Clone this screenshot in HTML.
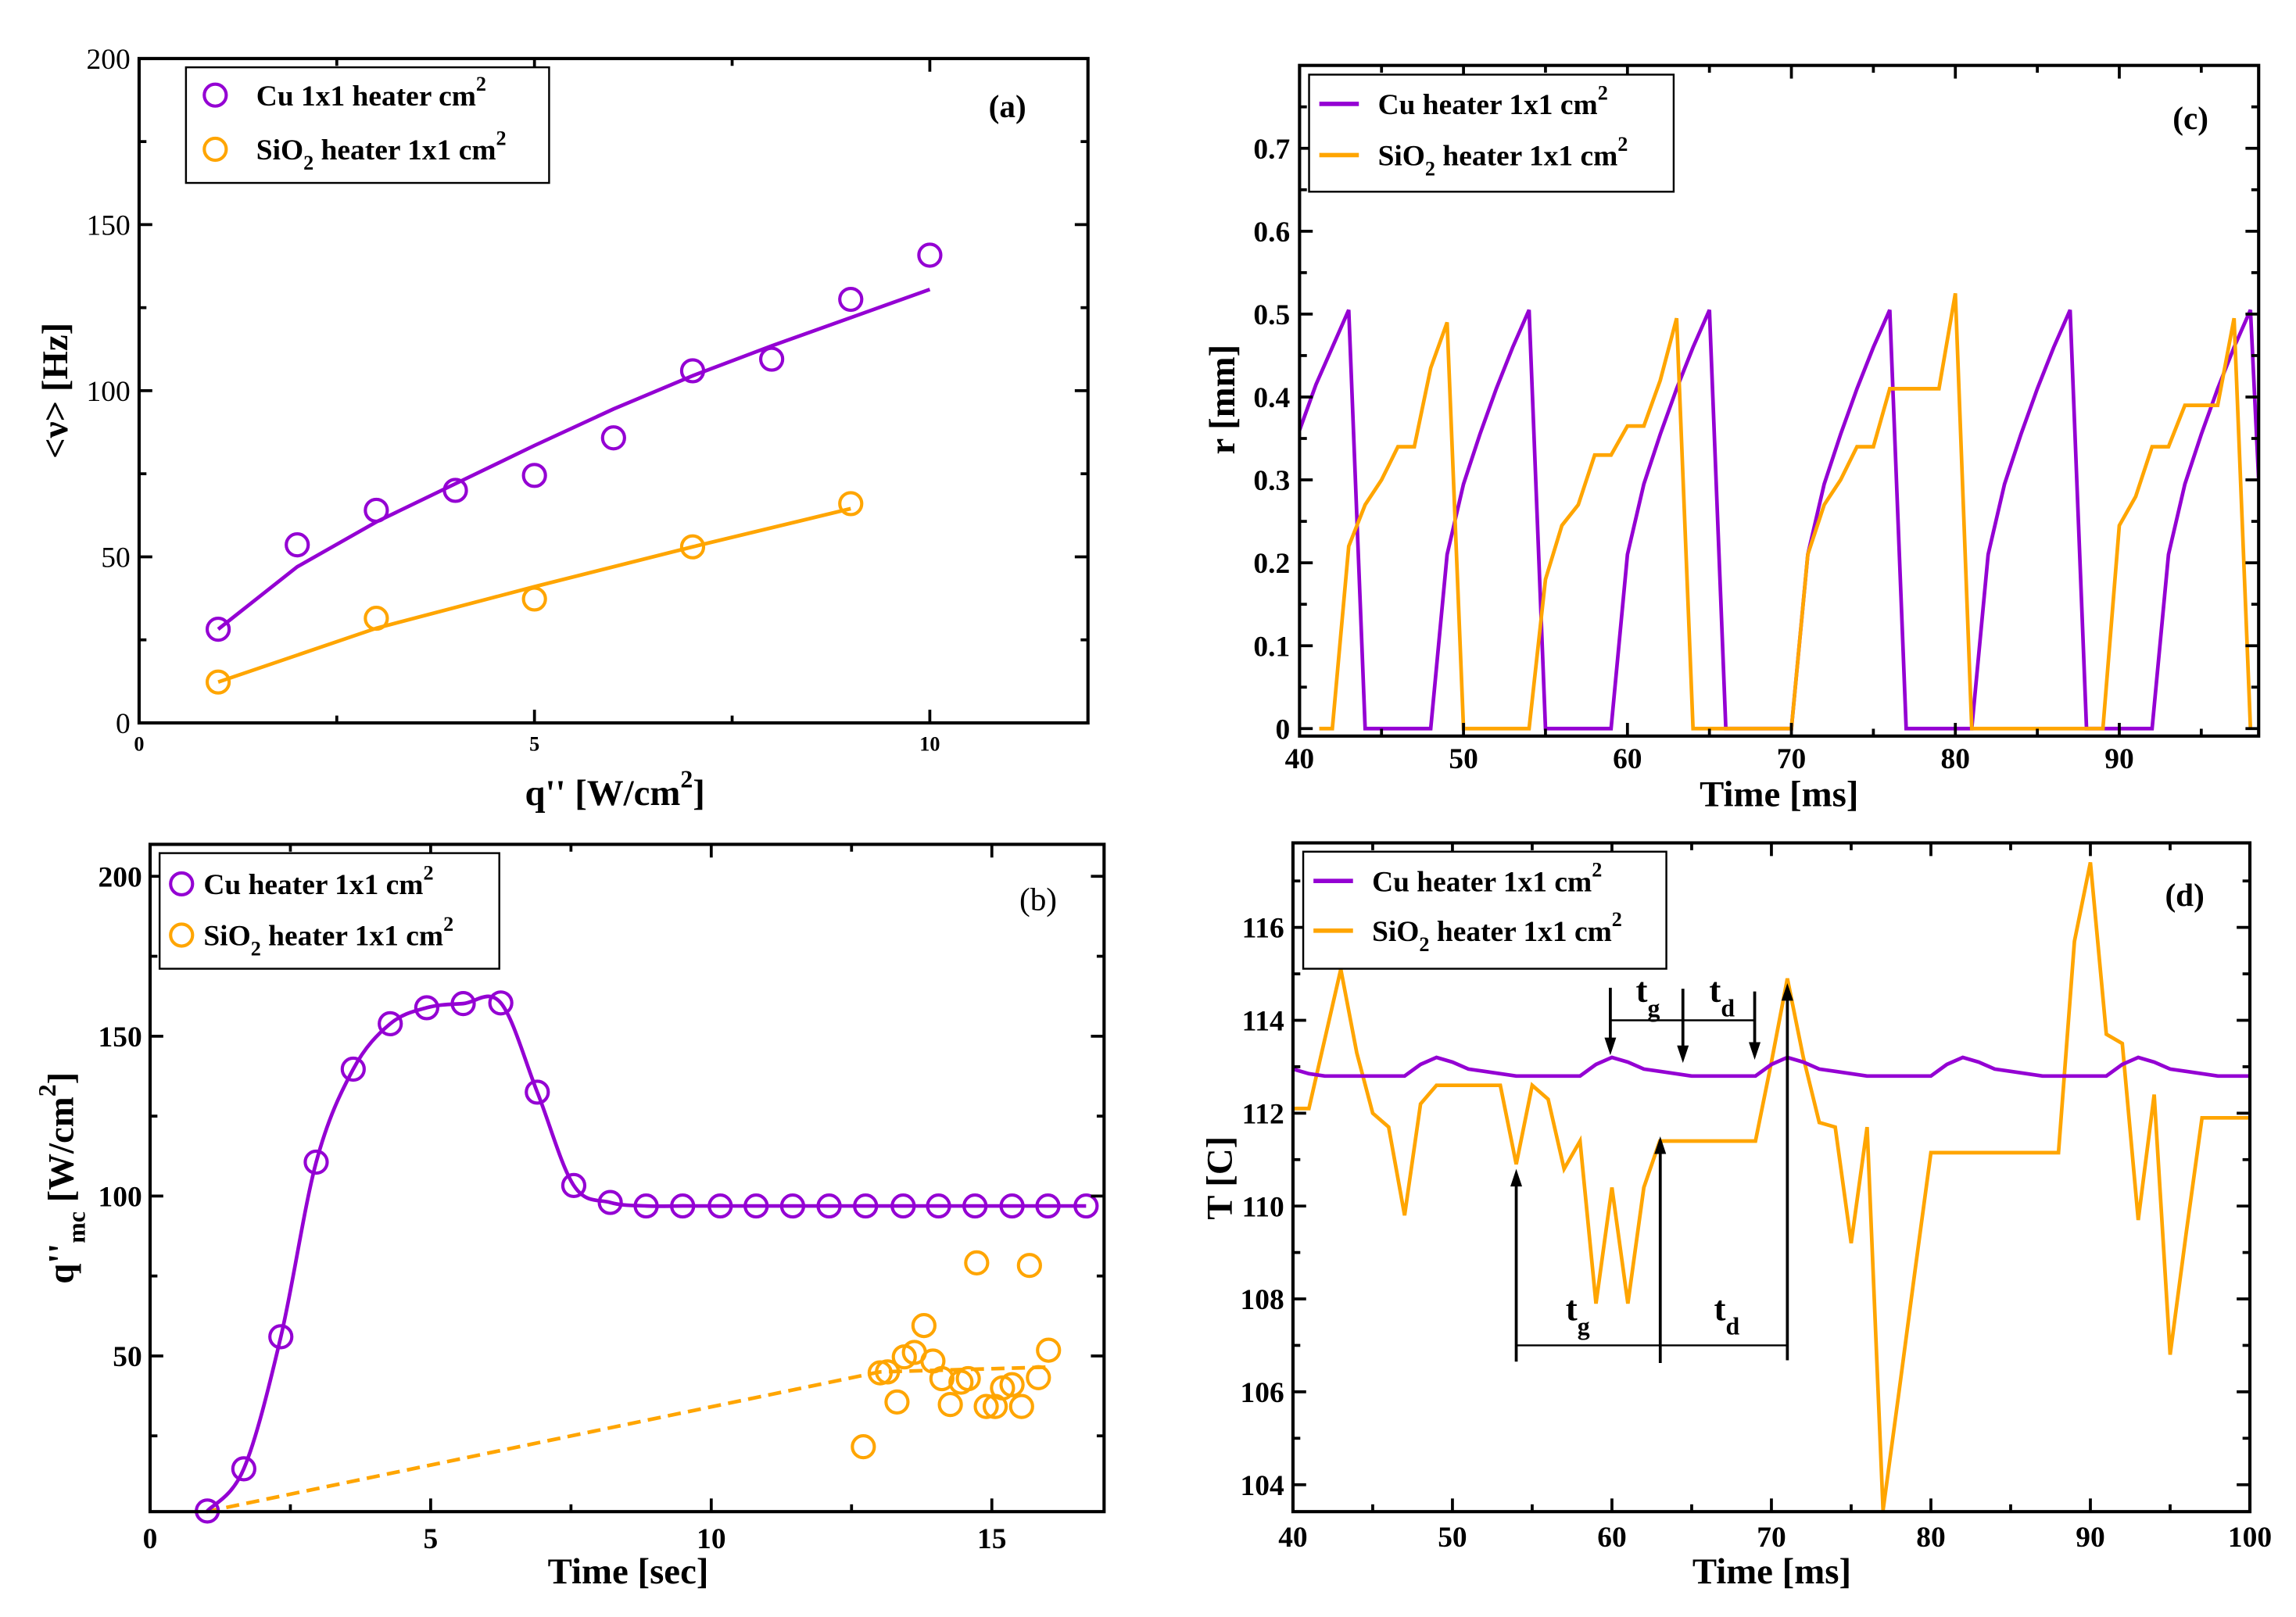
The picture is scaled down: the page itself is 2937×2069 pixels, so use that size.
<!DOCTYPE html>
<html><head><meta charset="utf-8">
<style>
html,body{margin:0;padding:0;background:#fff;}
svg{display:block;}
text{font-family:"Liberation Serif",serif;}
</style></head>
<body>
<svg id="fig" width="2937" height="2069" viewBox="0 0 1568 1105" preserveAspectRatio="none" xmlns="http://www.w3.org/2000/svg">
<rect x="0" y="0" width="1568" height="1105" fill="#fff"/>
</svg>
<script>
// ---------- panel (a) data ----------
const aX = [1,2,3,4,5,6,7,8,9,10];
const aCu = [28.2,53.6,64,70,74.5,85.8,106,109.5,127.5,140.8];
const aCuFit = [28.2,47,60.5,72,83.5,94.5,104.5,113.5,122,130.5];
const aSiX = [1,3,5,7,9];
const aSi = [12.3,31.5,37.3,53,66];
const aSiFit = [12.3,28.5,41,53,64.5];
const aXTicks = [0,5,10];
const aYTicks = [0,50,100,150,200];
// ---------- panel (b) data ----------
const bCuX = [1.02,1.67,2.33,2.96,3.62,4.28,4.93,5.58,6.25,6.9,7.55,8.2,8.84,9.49,10.16,10.8,11.45,12.1,12.75,13.42,14.05,14.7,15.36,16.0,16.68];
const bCuY = [1.5,14.7,56,110.6,139.7,153.9,158.9,160.2,160.4,132.5,103.3,98,96.9,96.9,96.9,96.9,96.9,96.9,96.9,96.9,96.9,96.9,96.9,96.9,96.9];
const bSiX = [12.71,13.01,13.14,13.31,13.44,13.62,13.79,13.95,14.11,14.26,14.45,14.58,14.73,14.9,15.06,15.19,15.36,15.53,15.67,15.83,16.01];
const bSiY = [21.6,44.7,45.0,35.6,49.7,51.1,59.5,48.4,42.9,34.8,41.8,42.9,79.1,34.2,34.2,40.0,41.0,34.2,78.3,43.2,51.8];
const bFitX = [1,13,16];
const bFitY = [1.3,45,46.5];
const bXTicks = [0,5,10,15];
const bYTicks = [50,100,150,200];
// ---------- panel (c) data ----------
const cCuT = [40,41,42,43,44,48,49,50,51,52,53,54,55,59,60,61,62,63,64,65,66,70,71,72,73,74,75,76,77,81,82,83,84,85,86,87,88,92,93,94,95,96,97,98,98.5];
const cCuR = [0.36,0.415,0.46,0.505,0, 0,0.21,0.295,0.355,0.41,0.46,0.505,0, 0,0.21,0.295,0.355,0.41,0.46,0.505,0, 0,0.21,0.295,0.355,0.41,0.46,0.505,0, 0,0.21,0.295,0.355,0.41,0.46,0.505,0, 0,0.21,0.295,0.355,0.41,0.46,0.505,0.3];
const cSiT = [41.2,42,43,44,45,46,47,48,49,50,54,55,56,57,58,59,60,61,62,63,64,70,71,72,73,74,75,76,79,80,81,89,90,91,92,93,94,96,97,98];
const cSiR = [0,0,0.22,0.27,0.30,0.34,0.34,0.435,0.49,0, 0,0.18,0.245,0.27,0.33,0.33,0.365,0.365,0.42,0.495,0, 0,0.21,0.27,0.30,0.34,0.34,0.41,0.41,0.525,0, 0,0.245,0.28,0.34,0.34,0.39,0.39,0.495,0];
const cXTicks = [40,50,60,70,80,90];
const cYTicks = [0,0.1,0.2,0.3,0.4,0.5,0.6,0.7];
// ---------- panel (d) data ----------
const dCuT = [40,41,42,43,44,45,46,47,48,49,50,51,52,53,54,55,56,57,58,59,60,61,62,63,64,65,66,67,68,69,70,71,72,73,74,75,76,77,78,79,80,81,82,83,84,85,86,87,88,89,90,91,92,93,94,95,96,97,98,99,100];
const dCuV = [112.95,112.85,112.8,112.8,112.8,112.8,112.8,112.8,113.05,113.2,113.1,112.95,112.9,112.85,112.8,112.8,112.8,112.8,112.8,113.05,113.2,113.1,112.95,112.9,112.85,112.8,112.8,112.8,112.8,112.8,113.05,113.2,113.1,112.95,112.9,112.85,112.8,112.8,112.8,112.8,112.8,113.05,113.2,113.1,112.95,112.9,112.85,112.8,112.8,112.8,112.8,112.8,113.05,113.2,113.1,112.95,112.9,112.85,112.8,112.8,112.8];
const dSiT = [40,41,43,44,45,46,47,48,49,53,54,55,56,57,58,59,60,61,62,63,69,70,71,72,73,74,75,76,77,78,79,80,88,89,90,91,92,93,94,95,96,97,100];
const dSiV = [112.1,112.1,115.1,113.3,112.0,111.7,109.8,112.2,112.6,112.6,110.9,112.6,112.3,110.8,111.4,107.9,110.4,107.9,110.4,111.4,111.4,113.1,114.9,113.2,111.8,111.7,109.2,111.7,103.45,106.0,108.6,111.15,111.15,115.7,117.4,113.7,113.5,109.7,112.4,106.8,109.4,111.9,111.9];
const dXTicks = [40,50,60,70,80,90,100];
const dYTicks = [104,106,108,110,112,114,116];

const NS = "http://www.w3.org/2000/svg";
const svg = document.getElementById('fig');
const PURPLE = "#9400D3", ORANGE = "#FFA500";

function mk(tag, attrs, parent){
  const e = document.createElementNS(NS, tag);
  for (const k in attrs) e.setAttribute(k, attrs[k]);
  (parent||svg).appendChild(e);
  return e;
}
function lin(d0,d1,r0,r1){ return v => r0 + (v-d0)/(d1-d0)*(r1-r0); }

function polyPath(xs, ys, sx, sy){
  return xs.map((x,i)=>(i?'L':'M')+sx(x).toFixed(2)+' '+sy(ys[i]).toFixed(2)).join(' ');
}
function smoothPath(xs, ys, sx, sy){
  const P = xs.map((x,i)=>[sx(x), sy(ys[i])]);
  let d = 'M'+P[0][0]+' '+P[0][1];
  for (let i=0;i<P.length-1;i++){
    const p0=P[Math.max(0,i-1)], p1=P[i], p2=P[i+1], p3=P[Math.min(P.length-1,i+2)];
    const c1=[p1[0]+(p2[0]-p0[0])/6, p1[1]+(p2[1]-p0[1])/6];
    const c2=[p2[0]-(p3[0]-p1[0])/6, p2[1]-(p3[1]-p1[1])/6];
    d += ' C'+c1[0]+' '+c1[1]+' '+c2[0]+' '+c2[1]+' '+p2[0]+' '+p2[1];
  }
  return d;
}

function frameAndTicks(g, box, sx, sy, xMaj, xMin, yMaj, yMin){
  const grp = mk('g', {}, g);
  
  
  const T = 9, t = 5;
  const drawX = (v, L) => {
    const x = sx(v);
    mk('line',{x1:x,y1:box.y1,x2:x,y2:box.y1-L,stroke:'#000','stroke-width':2},grp);
    mk('line',{x1:x,y1:box.y0,x2:x,y2:box.y0+L,stroke:'#000','stroke-width':2},grp);
  };
  const drawY = (v, L) => {
    const y = sy(v);
    mk('line',{x1:box.x0,y1:y,x2:box.x0+L,y2:y,stroke:'#000','stroke-width':2},grp);
    mk('line',{x1:box.x1,y1:y,x2:box.x1-L,y2:y,stroke:'#000','stroke-width':2},grp);
  };
  xMaj.forEach(v=>drawX(v,T)); xMin.forEach(v=>drawX(v,t));
  yMaj.forEach(v=>drawY(v,T)); yMin.forEach(v=>drawY(v,t));
  const fr = mk('rect',{x:box.x0,y:box.y0,width:box.x1-box.x0,height:box.y1-box.y0,fill:'none',stroke:'#000','stroke-width':2.2},g);
  
  
}

function circleMarks(g, xs, ys, sx, sy, color, name){
  const grp = mk('g', {}, g);
  
  
  xs.forEach((x,i)=>{
    const c = mk('circle',{cx:sx(x),cy:sy(ys[i]),r:7.5,fill:'none',stroke:color,'stroke-width':2.2},grp);
    
    
  });
}

function tickLabels(g, vals, fmt, pos, anchor, size, weight, name){
  const grp = mk('g', {}, g);
  
  
  vals.forEach(v=>{
    const p = pos(v);
    const tx = mk('text',{x:p[0],y:p[1],'text-anchor':anchor,'font-size':size,'font-weight':weight},grp);
    tx.textContent = fmt(v);
    
    
  });
}

function legend(g, box, items, sym){
  const lg = mk('g', {}, g);
  
  
  mk('rect',{x:box.x,y:box.y,width:box.w,height:box.h,fill:'#fff',stroke:'#000','stroke-width':1.3},lg);
  items.forEach(it=>{
    const e = mk('g',{},lg);
    
    
    if (sym==='circle') mk('circle',{cx:it.sx,cy:it.y,r:7.5,fill:'none',stroke:it.color,'stroke-width':2.2},e);
    else mk('line',{x1:it.sx,y1:it.y,x2:it.sx+27,y2:it.y,stroke:it.color,'stroke-width':3},e);
    const tx = mk('text',{x:it.tx,y:it.y+7,'font-size':20,'font-weight':'bold'},e);
    tx.innerHTML = it.html;
  });
}

const CU_TXT = 'Cu heater 1x1 cm<tspan dy="-10" font-size="14">2</tspan>';
const CU_TXT_A = 'Cu 1x1 heater cm<tspan dy="-10" font-size="14">2</tspan>';
const SI_TXT = 'SiO<tspan dy="7" font-size="14">2</tspan><tspan dy="-7"> heater 1x1 cm</tspan><tspan dy="-10" font-size="14">2</tspan>';

// ================= Panel (a) =================
(function(){
  const g = mk('g',{});  
  const box = {x0:95,x1:743,y0:40,y1:494};
  const sx = lin(0,12,box.x0,box.x1), sy = lin(0,200,box.y1,box.y0);
  const l1 = mk('path',{d:polyPath(aX,aCuFit,sx,sy),fill:'none',stroke:PURPLE,'stroke-width':2.5},g);
   
  const l2 = mk('path',{d:polyPath(aSiX,aSiFit,sx,sy),fill:'none',stroke:ORANGE,'stroke-width':2.5},g);
   
  circleMarks(g,aX,aCu,sx,sy,PURPLE,'cu-series');
  circleMarks(g,aSiX,aSi,sx,sy,ORANGE,'sio2-series');
  frameAndTicks(g,box,sx,sy,[0,5,10],[2.5,7.5],aYTicks,[25,75,125,175]);
  tickLabels(g,aXTicks,v=>String(v),v=>[sx(v),513],'middle',14,'bold','x-tick-labels');
  tickLabels(g,aYTicks,v=>String(v),v=>[89,sy(v)+7],'end',20,'normal','y-tick-labels');
  legend(g,{x:127,y:46,w:248,h:79},[
    {sx:147,tx:175,y:65,color:PURPLE,html:CU_TXT_A},
    {sx:147,tx:175,y:102,color:ORANGE,html:SI_TXT}],'circle');
  const pl = mk('text',{x:688,y:80,'font-size':22,'font-weight':'bold','text-anchor':'middle'},g);
  pl.textContent='(a)';  
  const xt = mk('text',{x:420,y:550,'font-size':25,'font-weight':'bold','text-anchor':'middle'},g);
  xt.innerHTML = 'q\'\' [W/cm<tspan dy="-12" font-size="17">2</tspan><tspan dy="12">]</tspan>';
   
  const yt = mk('text',{x:0,y:0,'font-size':25,'font-weight':'bold','text-anchor':'middle',transform:'translate(46,267) rotate(-90)'},g);
  yt.textContent = '<ν> [Hz]';
   
})();

// ================= Panel (c) =================
(function(){
  const g = mk('g',{});  
  const box = {x0:887.5,x1:1542.5,y0:44.7,y1:503};
  const sx = lin(40,98.5,box.x0,box.x1), sy = lin(-0.009,0.8,box.y1,box.y0);
  const cp = mk('clipPath',{id:'clipc'},g); mk('rect',{x:box.x0,y:box.y0,width:box.x1-box.x0,height:box.y1-box.y0},cp);
  const l1 = mk('path',{d:polyPath(cCuT,cCuR,sx,sy),fill:'none',stroke:PURPLE,'stroke-width':2.5,'clip-path':'url(#clipc)'},g);
   
  const l2 = mk('path',{d:polyPath(cSiT,cSiR,sx,sy),fill:'none',stroke:ORANGE,'stroke-width':2.5,'clip-path':'url(#clipc)'},g);
   
  frameAndTicks(g,box,sx,sy,cXTicks,[45,55,65,75,85,95],cYTicks,[0.05,0.15,0.25,0.35,0.45,0.55,0.65,0.75]);
  tickLabels(g,cXTicks,v=>String(v),v=>[sx(v),525],'middle',20,'bold','x-tick-labels');
  tickLabels(g,cYTicks,v=>v===0?'0':v.toFixed(1),v=>[881,sy(v)+7],'end',20,'bold','y-tick-labels');
  legend(g,{x:894,y:51,w:249,h:80},[
    {sx:901,tx:941,y:71,color:PURPLE,html:CU_TXT},
    {sx:901,tx:941,y:106,color:ORANGE,html:SI_TXT}],'line');
  const pl = mk('text',{x:1496,y:88,'font-size':22,'font-weight':'bold','text-anchor':'middle'},g);
  pl.textContent='(c)';  
  const xt = mk('text',{x:1215,y:551,'font-size':25,'font-weight':'bold','text-anchor':'middle'},g);
  xt.textContent='Time [ms]';  
  const yt = mk('text',{x:0,y:0,'font-size':25,'font-weight':'bold','text-anchor':'middle',transform:'translate(843,273) rotate(-90)'},g);
  yt.textContent='r [mm]';  
})();

// ================= Panel (b) =================
(function(){
  const g = mk('g',{});  
  const box = {x0:102.5,x1:754,y0:577,y1:1033};
  const sx = lin(0,17,box.x0,box.x1), sy = lin(1.3,210,box.y1,box.y0);
  const l2 = mk('path',{d:polyPath(bFitX,bFitY,sx,sy),fill:'none',stroke:ORANGE,'stroke-width':2.5,'stroke-dasharray':'9 5'},g);
   
  const l1 = mk('path',{d:smoothPath(bCuX,bCuY,sx,sy),fill:'none',stroke:PURPLE,'stroke-width':2.5},g);
   
  circleMarks(g,bCuX,bCuY,sx,sy,PURPLE,'cu-series');
  circleMarks(g,bSiX,bSiY,sx,sy,ORANGE,'sio2-series');
  frameAndTicks(g,box,sx,sy,bXTicks,[2.5,7.5,12.5],bYTicks,[25,75,125,175]);
  tickLabels(g,bXTicks,v=>String(v),v=>[sx(v),1058],'middle',20,'bold','x-tick-labels');
  tickLabels(g,bYTicks,v=>String(v),v=>[97,sy(v)+7],'end',20,'bold','y-tick-labels');
  legend(g,{x:109,y:583,w:232,h:79},[
    {sx:124,tx:139,y:604,color:PURPLE,html:CU_TXT},
    {sx:124,tx:139,y:639,color:ORANGE,html:SI_TXT}],'circle');
  const pl = mk('text',{x:709,y:622,'font-size':22,'text-anchor':'middle'},g);
  pl.textContent='(b)';  
  const xt = mk('text',{x:429,y:1082,'font-size':25,'font-weight':'bold','text-anchor':'middle'},g);
  xt.textContent='Time [sec]';  
  const yt = mk('text',{x:0,y:0,'font-size':25,'font-weight':'bold','text-anchor':'middle',transform:'translate(50,805) rotate(-90)'},g);
  yt.innerHTML='q\'\'<tspan dy="8" font-size="17">mc</tspan><tspan dy="-8"> [W/cm</tspan><tspan dy="-12" font-size="17">2</tspan><tspan dy="12">]</tspan>';
   
})();

// ================= Panel (d) =================
(function(){
  const g = mk('g',{});  
  const box = {x0:883,x1:1536.5,y0:576,y1:1033};
  const sx = lin(40,100,box.x0,box.x1), sy = lin(103.42,117.82,box.y1,box.y0);
  const l2 = mk('path',{d:polyPath(dSiT,dSiV,sx,sy),fill:'none',stroke:ORANGE,'stroke-width':2.5},g);
   
  const l1 = mk('path',{d:polyPath(dCuT,dCuV,sx,sy),fill:'none',stroke:PURPLE,'stroke-width':2.5},g);
   
  // annotations
  const an = mk('g',{},g);  
  const arrow = (x, yFrom, yTo) => {
    const X=sx(x), Y0=sy(yFrom), Y1=sy(yTo), dir = Y1>Y0?1:-1;
    mk('line',{x1:X,y1:Y0,x2:X,y2:Y1-dir*8,stroke:'#000','stroke-width':2},an);
    mk('polygon',{points:`${X-4},${Y1-dir*12} ${X+4},${Y1-dir*12} ${X},${Y1}`,fill:'#000'},an);
  };
  arrow(59.9,114.7,113.25); arrow(64.45,114.68,113.08); arrow(68.95,114.62,113.15);
  mk('line',{x1:sx(59.9),y1:sy(114.0),x2:sx(68.95),y2:sy(114.0),stroke:'#000','stroke-width':1.3},an);
  arrow(54,106.65,110.8); arrow(63.03,106.62,111.5); arrow(71,106.68,114.8);
  mk('line',{x1:sx(54),y1:sy(107.0),x2:sx(71),y2:sy(107.0),stroke:'#000','stroke-width':1.3},an);
  const lab = (x,y,m,s)=>{ const t=mk('text',{x:sx(x),y:sy(y),'font-size':24,'font-weight':'bold'},an); t.innerHTML=m+'<tspan dy="10" font-size="17">'+s+'</tspan>'; };
  lab(61.5,114.4,'t','g'); lab(66.1,114.4,'t','d'); lab(57.1,107.55,'t','g'); lab(66.4,107.55,'t','d');
  frameAndTicks(g,box,sx,sy,dXTicks,[45,55,65,75,85,95],dYTicks,[105,107,109,111,113,115,117]);
  tickLabels(g,dXTicks,v=>String(v),v=>[sx(v),1057],'middle',20,'bold','x-tick-labels');
  tickLabels(g,dYTicks,v=>String(v),v=>[877,sy(v)+7],'end',20,'bold','y-tick-labels');
  legend(g,{x:890,y:582,w:248,h:80},[
    {sx:897,tx:937,y:602,color:PURPLE,html:CU_TXT},
    {sx:897,tx:937,y:636,color:ORANGE,html:SI_TXT}],'line');
  const pl = mk('text',{x:1492,y:619,'font-size':22,'font-weight':'bold','text-anchor':'middle'},g);
  pl.textContent='(d)';  
  const xt = mk('text',{x:1210,y:1082,'font-size':25,'font-weight':'bold','text-anchor':'middle'},g);
  xt.textContent='Time [ms]';  
  const yt = mk('text',{x:0,y:0,'font-size':25,'font-weight':'bold','text-anchor':'middle',transform:'translate(841,805) rotate(-90)'},g);
  yt.textContent='T [C]';  
})();
</script>
</body></html>
